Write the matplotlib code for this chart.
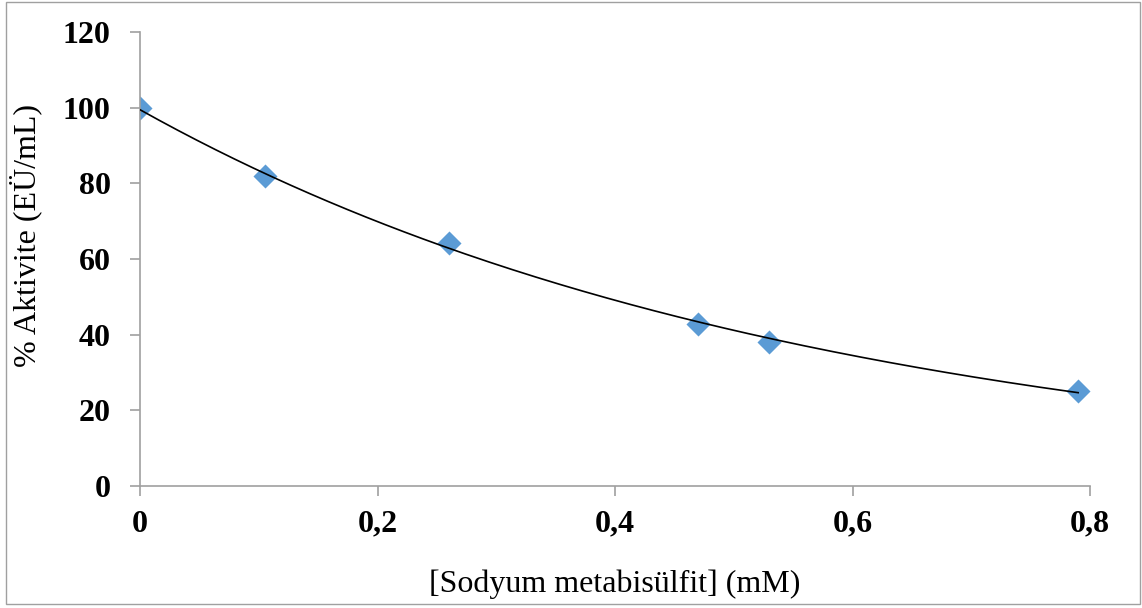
import numpy as np
import matplotlib.pyplot as plt
from matplotlib.patches import Rectangle

# data
conc = [0.0, 0.105, 0.26, 0.47, 0.53, 0.79]
activity = [100, 82, 64.3, 42.9, 38.1, 25.1]
xticks = [0, 0.2, 0.4, 0.6, 0.8]
xtick_labels = ["0", "0,2", "0,4", "0,6", "0,8"]
yticks = [0, 20, 40, 60, 80, 100, 120]

plt.rcParams['font.family'] = ['Liberation Serif', 'DejaVu Serif']

fig = plt.figure(figsize=(11.42, 6.08), dpi=100)
ax = fig.add_axes([0.1226, 0.2007, 0.8319, 0.7463])

# outer chart border
fig.patches.append(Rectangle((0.005, 0.007), 0.993, 0.99, transform=fig.transFigure,
                             fill=False, edgecolor='#A0A0A0', linewidth=1))

# exponential trendline (fit of the data)
b, ln_a = np.polyfit(conc, np.log(activity), 1)
xs = np.linspace(0, max(conc), 200)
ax.scatter(conc, activity, marker='D', s=150, color='#5B9BD5', zorder=2, linewidths=0)
ax.plot(xs, np.exp(ln_a) * np.exp(b * xs), color='black', linewidth=1.2, zorder=3)

ax.set_xlim(0, 0.8)
ax.set_ylim(0, 120)
ax.set_xticks(xticks)
ax.set_xticklabels(xtick_labels)
ax.set_yticks(yticks)
for s in ['top', 'right']:
    ax.spines[s].set_visible(False)
for s in ['left', 'bottom']:
    ax.spines[s].set_color('#A0A0A0')
    ax.spines[s].set_linewidth(1.2)
ax.tick_params(axis='both', length=7, width=1.2, color='#A0A0A0', labelsize=23)
ax.tick_params(axis='y', pad=14)
ax.tick_params(axis='x', pad=10)
for lbl in ax.get_xticklabels() + ax.get_yticklabels():
    lbl.set_fontweight('bold')

ax.set_xlabel('[Sodyum metabisülfit] (mM)', fontsize=23, labelpad=22)
ax.set_ylabel('% Aktivite (EÜ/mL)', fontsize=23)
ax.yaxis.set_label_coords(-0.103, 0.553)

fig.savefig('out.png', dpi=100)
